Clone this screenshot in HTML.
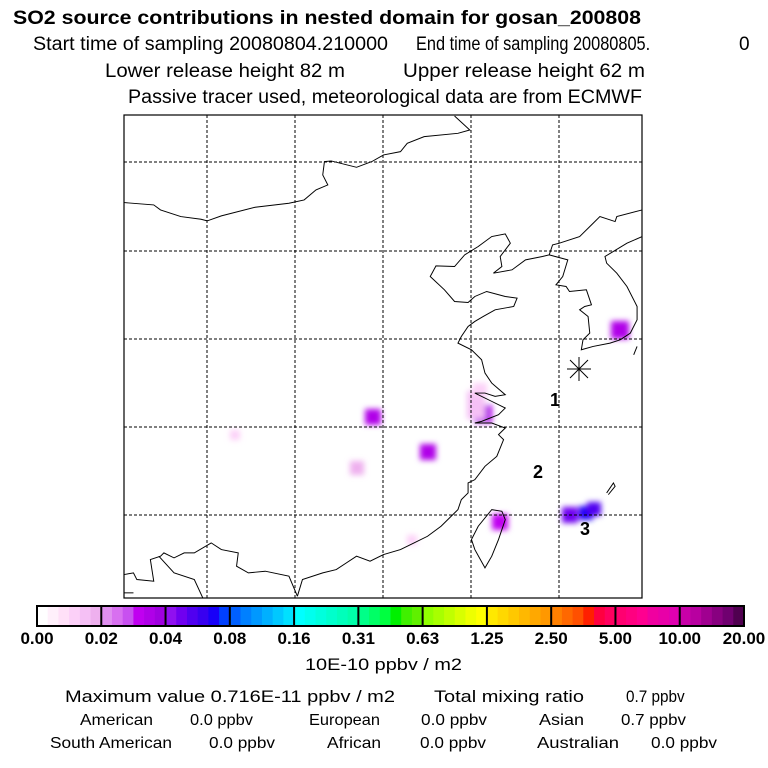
<!DOCTYPE html>
<html><head><meta charset="utf-8"><style>
html,body{margin:0;padding:0;background:#fff;}
svg{display:block;font-family:"Liberation Sans",sans-serif;}
</style></head><body>
<svg id="chart" width="768" height="768" viewBox="0 0 768 768">
<defs>
<filter id="blur" x="-80%" y="-80%" width="260%" height="260%"><feGaussianBlur stdDeviation="3"/></filter>
</defs>
<g fill="#000">
<text x="13" y="24" font-size="19" font-weight="bold" textLength="628" lengthAdjust="spacingAndGlyphs">SO2 source contributions in nested domain for gosan_200808</text>
<text x="33" y="50" font-size="19" textLength="355" lengthAdjust="spacingAndGlyphs">Start time of sampling 20080804.210000</text>
<g transform="translate(416,50) scale(0.86,1)"><text x="0" y="0" font-size="19">End time of sampling 20080805.</text></g>
<text x="739" y="50" font-size="19">0</text>
<text x="105" y="77" font-size="19" textLength="240" lengthAdjust="spacingAndGlyphs">Lower release height   82 m</text>
<text x="403" y="77" font-size="19" textLength="242" lengthAdjust="spacingAndGlyphs">Upper release height   62 m</text>
<text x="128" y="103" font-size="19" textLength="514" lengthAdjust="spacingAndGlyphs">Passive tracer used, meteorological data are from ECMWF</text>
</g>

<g id="plumes" filter="url(#blur)"></g>

<g stroke="#000" stroke-width="1" stroke-dasharray="3,2">
<line x1="207" y1="115" x2="207" y2="598"/><line x1="295" y1="115" x2="295" y2="598"/><line x1="383" y1="115" x2="383" y2="598"/><line x1="471" y1="115" x2="471" y2="598"/><line x1="559" y1="115" x2="559" y2="598"/>
<line x1="124" y1="162" x2="642" y2="162"/><line x1="124" y1="251" x2="642" y2="251"/><line x1="124" y1="339" x2="642" y2="339"/><line x1="124" y1="427" x2="642" y2="427"/><line x1="124" y1="515" x2="642" y2="515"/>
</g>

<g fill="none" stroke="#000" stroke-width="2.9" transform="translate(124,115) scale(0.338,0.333) translate(-12,-15)">
<polyline points="12,278 100,285 120,300 180,320 240,328 258,333 300,318 400,292 500,280 545,270 580,240 615,225 600,195 605,155 625,153 700,172 745,155 780,135 830,125 850,100 900,80 1000,70 1035,60 990,18"/>
<polyline points="1545,300 1470,320 1465,335 1420,320 1400,340 1360,380 1300,400 1280,405 1270,435 1250,440 1200,450 1160,480 1105,490 1130,470 1125,440 1155,400 1140,372 1100,380 1060,410 1020,435 990,470 935,468 918,500 960,540 990,575 1030,578 1050,560 1085,545 1140,560 1175,565 1165,590 1110,600 1075,620 1050,635 1030,650 1010,680 1000,700 1040,720 1070,750 1080,790 1100,820 1140,855 1110,860 1080,850 1050,850 1100,875 1140,895 1120,915 1070,935 1050,940 1100,940 1140,955 1120,975 1135,990 1115,1040 1080,1070 1050,1110 1030,1120 1030,1150 1010,1170 1000,1200 980,1220 950,1250 910,1280 870,1300 830,1320 780,1335 740,1355 700,1340 670,1360 640,1380 600,1390 540,1410 525,1460"/>
<polyline points="1270,435 1325,450 1310,500 1290,525 1320,530 1330,545 1380,540 1395,585 1375,590 1360,600 1385,620 1390,670 1370,690 1365,720 1400,710 1450,700 1480,690 1510,670 1530,630 1530,590 1500,530 1470,490 1440,460 1435,440 1500,400 1545,380"/>
<polyline points="12,1395 40,1390 50,1410 100,1415 90,1350 120,1340 130,1330 160,1345 190,1330 220,1330 270,1300 300,1320 350,1330 345,1370 380,1390 430,1385 500,1400 525,1460"/>
<polyline points="115,1340 160,1390 220,1410 245,1465"/>
<polyline points="12,1450 40,1450"/>
<polygon points="1100,1200 1130,1205 1140,1230 1120,1290 1100,1340 1080,1375 1050,1320 1040,1290 1060,1250"/>
<polyline points="1440,1150 1460,1120 1465,1130 1445,1155"/>
<polyline points="1520,735 1530,710"/>
</g>
<rect x="124" y="115" width="518" height="483" fill="none" stroke="#000" stroke-width="1.2"/>

<g stroke="#000" stroke-width="1">
<line x1="567" y1="369" x2="591" y2="369"/><line x1="579" y1="357" x2="579" y2="381"/>
<line x1="570" y1="360" x2="588" y2="378"/><line x1="588" y1="360" x2="570" y2="378"/>
</g>
<g font-size="18" font-weight="bold">
<text x="550" y="406">1</text><text x="533" y="478">2</text><text x="580" y="535">3</text>
</g>

<g id="colorbar"></g>
<g id="cbticks" font-size="17" font-weight="bold"></g>

<g font-size="16">
<text x="305" y="670" font-size="17" textLength="157" lengthAdjust="spacingAndGlyphs">10E-10 ppbv / m2</text>
<text x="65" y="702" font-size="17" textLength="330" lengthAdjust="spacingAndGlyphs">Maximum value  0.716E-11 ppbv / m2</text>
<text x="434" y="702" font-size="17" textLength="150" lengthAdjust="spacingAndGlyphs">Total mixing ratio</text>
<g transform="translate(626,702) scale(0.9,1)"><text x="0" y="0" font-size="17">0.7 ppbv</text></g>
<text x="80" y="725" textLength="73" lengthAdjust="spacingAndGlyphs">American</text>
<text x="190" y="725" textLength="63" lengthAdjust="spacingAndGlyphs">0.0 ppbv</text>
<text x="309" y="725" textLength="71" lengthAdjust="spacingAndGlyphs">European</text>
<text x="421" y="725" textLength="66" lengthAdjust="spacingAndGlyphs">0.0 ppbv</text>
<text x="539" y="725" textLength="45" lengthAdjust="spacingAndGlyphs">Asian</text>
<text x="621" y="725" textLength="65" lengthAdjust="spacingAndGlyphs">0.7 ppbv</text>
<text x="50" y="748" textLength="122" lengthAdjust="spacingAndGlyphs">South American</text>
<text x="209" y="748" textLength="66" lengthAdjust="spacingAndGlyphs">0.0 ppbv</text>
<text x="327" y="748" textLength="54" lengthAdjust="spacingAndGlyphs">African</text>
<text x="420" y="748" textLength="66" lengthAdjust="spacingAndGlyphs">0.0 ppbv</text>
<text x="537" y="748" textLength="82" lengthAdjust="spacingAndGlyphs">Australian</text>
<text x="651" y="748" textLength="66" lengthAdjust="spacingAndGlyphs">0.0 ppbv</text>
</g>
</svg>
<script>
const tickLabels=["0.00","0.02","0.04","0.08","0.16","0.31","0.63","1.25","2.50","5.00","10.00","20.00"];
const bandColors=[
"#ffffff","#fff0fb","#ffe0f8","#fcd0f8","#f5c0f5","#eeb0ee",
"#e090f0","#d870f0","#c850f0","#c000f0","#b000e8","#a000e0",
"#9010f0","#7000f0","#5000f0","#3800f0","#1800f8","#0040ff",
"#0060ff","#0080ff","#0098ff","#00b0ff","#00c8ff","#00e0ff",
"#00ffff","#00ffee","#00ffdd","#00ffcc","#00ffbb","#00ffaa",
"#00ff88","#00ff66","#00ff40","#00f000","#40f000","#60f000",
"#90ff00","#a8ff00","#c0ff00","#d8ff00","#eeff00","#ffff00",
"#ffe800","#ffd800","#ffc800","#ffb800","#ffa800","#ff9800",
"#ff8000","#ff6800","#ff5000","#ff2000","#ff0040","#ff0060",
"#ff0070","#ff0080","#ff0090","#f000a0","#e800a8","#e000b0",
"#c800a8","#b800a0","#a00090","#880080","#700070","#500050"];
const plumeX=[496,359,249,304,233,376,111,288,462,446,352,352,470,356];
const plumeY=[215,299,302,337,353,407,320,425,398,400,285,295,394,275];
const plumeLevel=[10,10,10,10,5,9,3,3,16,13,4,4,14,3];
const plumeR=[9,9,8,8,7,8,5,5,7,8,9,9,7,7];
const NS="http://www.w3.org/2000/svg";
const x0=37,x1=744,cy=606,ch=20;
function bx(i){return x0+(x1-x0)*i/bandColors.length;}
function tx(i){return x0+(x1-x0)*i/(tickLabels.length-1);}
const cb=document.getElementById('colorbar');
bandColors.forEach((c,i)=>{const r=document.createElementNS(NS,'rect');


r.setAttribute('x',bx(i));r.setAttribute('y',cy);r.setAttribute('width',bx(i+1)-bx(i)+0.5);r.setAttribute('height',ch);r.setAttribute('fill',c);cb.appendChild(r);});
const fr=document.createElementNS(NS,'rect');


fr.setAttribute('x',x0);fr.setAttribute('y',cy);fr.setAttribute('width',x1-x0);fr.setAttribute('height',ch);fr.setAttribute('fill','none');fr.setAttribute('stroke','#000');fr.setAttribute('stroke-width','2');cb.appendChild(fr);
const tg=document.getElementById('cbticks');
tickLabels.forEach((t,i)=>{const x=tx(i);
if(i>0&&i<tickLabels.length-1){const l=document.createElementNS(NS,'line');


l.setAttribute('x1',x);l.setAttribute('x2',x);l.setAttribute('y1',cy);l.setAttribute('y2',cy+ch);l.setAttribute('stroke','#000');l.setAttribute('stroke-width','2');cb.appendChild(l);}
const e=document.createElementNS(NS,'text');


e.setAttribute('x',x);e.setAttribute('y',644);e.setAttribute('text-anchor','middle');e.textContent=t;tg.appendChild(e);});
const pg=document.getElementById('plumes');
plumeX.forEach((px,i)=>{const c=document.createElementNS(NS,'rect');


const r=plumeR[i];c.setAttribute('x',124+px-r);c.setAttribute('y',115+plumeY[i]-r);c.setAttribute('width',2*r);c.setAttribute('height',2*r);
c.setAttribute('fill',bandColors[plumeLevel[i]]);pg.appendChild(c);});
</script>
</body></html>
